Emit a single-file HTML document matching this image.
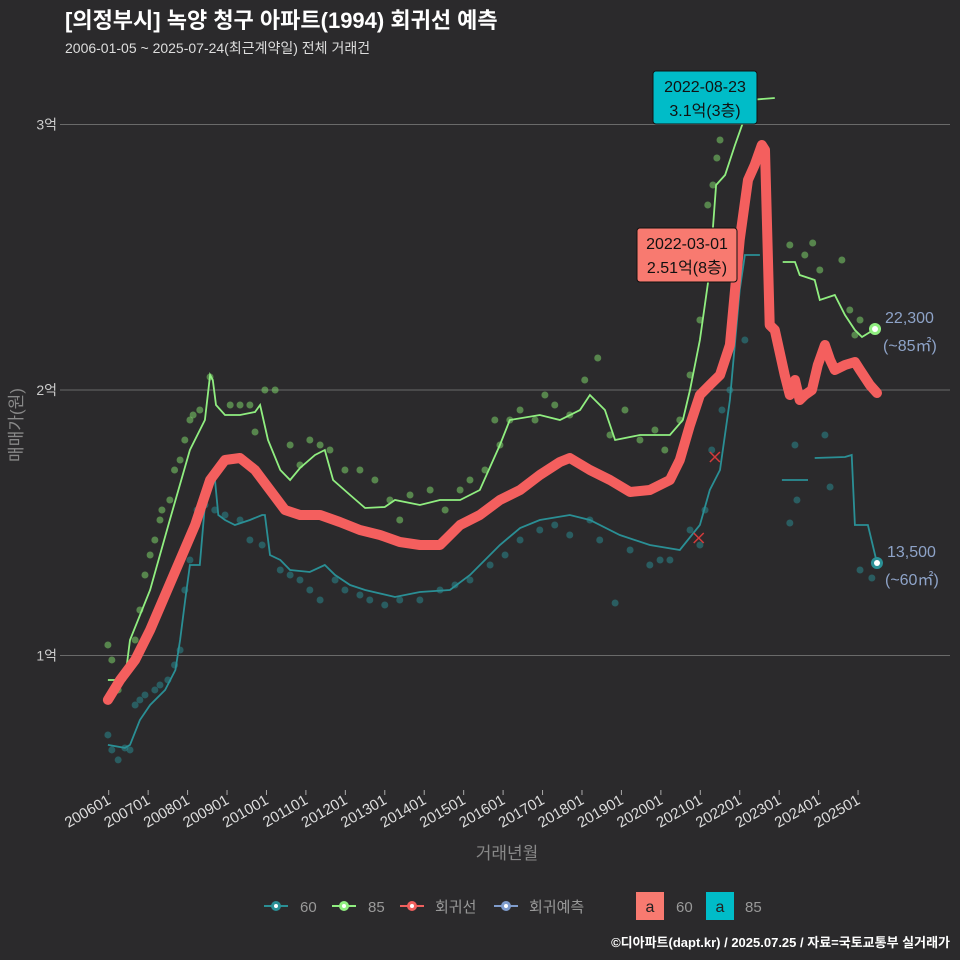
<!DOCTYPE html>
<html><head><meta charset="utf-8">
<style>
html,body{margin:0;padding:0;background:#2b2a2c;}
body{width:960px;height:960px;overflow:hidden;font-family:"Liberation Sans","Noto Sans CJK KR",sans-serif;}
</style></head>
<body>
<svg id="chart" width="960" height="960" xmlns="http://www.w3.org/2000/svg" style="position:absolute;left:0;top:0;font-family:'Liberation Sans','Noto Sans CJK KR',sans-serif">
<rect width="960" height="960" fill="#2b2a2c"/>
<text x="65" y="28" fill="#ffffff" font-size="22" font-weight="bold">[의정부시] 녹양 청구 아파트(1994) 회귀선 예측</text>
<text x="65" y="53" fill="#dddddd" font-size="14">2006-01-05 ~ 2025-07-24(최근계약일) 전체 거래건</text>
<g id="grid"></g>
<g id="dots"></g>
<g id="lines"></g>
<g id="axes"></g>
<text transform="translate(22,425) rotate(-90)" text-anchor="middle" fill="#888" font-size="17">매매가(원)</text>
<text x="507" y="859" text-anchor="middle" fill="#888" font-size="17">거래년월</text>
<g font-size="15" fill="#999">
 <g><line x1="264" y1="906" x2="288" y2="906" stroke="#2a8f95" stroke-width="2"/><circle cx="276" cy="906" r="5" fill="#2a8f95"/><circle cx="276" cy="906" r="2" fill="#fff"/><text x="300" y="912">60</text></g>
 <g><line x1="332" y1="906" x2="356" y2="906" stroke="#90ee80" stroke-width="2"/><circle cx="344" cy="906" r="5" fill="#90ee80"/><circle cx="344" cy="906" r="2" fill="#fff"/><text x="368" y="912">85</text></g>
 <g><line x1="400" y1="906" x2="424" y2="906" stroke="#f0605e" stroke-width="2"/><circle cx="412" cy="906" r="5" fill="#f0605e"/><circle cx="412" cy="906" r="2" fill="#fff"/><text x="435" y="912">회귀선</text></g>
 <g><line x1="494" y1="906" x2="518" y2="906" stroke="#7f9ccc" stroke-width="2"/><circle cx="506" cy="906" r="5" fill="#7f9ccc"/><circle cx="506" cy="906" r="2" fill="#fff"/><text x="529" y="912">회귀예측</text></g>
 <g><rect x="636" y="892" width="28" height="28" fill="#f87a70"/><text x="650" y="912" text-anchor="middle" fill="#222" font-size="16">a</text><text x="676" y="912">60</text></g>
 <g><rect x="706" y="892" width="28" height="28" fill="#00bcc8"/><text x="720" y="912" text-anchor="middle" fill="#222" font-size="16">a</text><text x="745" y="912">85</text></g>
</g>
<text x="950" y="947" text-anchor="end" fill="#ffffff" font-size="13" font-weight="bold">©디아파트(dapt.kr) / 2025.07.25 / 자료=국토교통부 실거래가</text>
</svg>
<script>
const yTickValues = [10000, 20000, 30000];
const yTickLabels = ["1억", "2억", "3억"];
const xTickYears = [2006,2007,2008,2009,2010,2011,2012,2013,2014,2015,2016,2017,2018,2019,2020,2021,2022,2023,2024,2025];
const xTickLabels = ["200601","200701","200801","200901","201001","201101","201201","201301","201401","201501","201601","201701","201801","201901","202001","202101","202201","202301","202401","202501"];

const line85A = [[2005.98,9079],[2006.41,9079],[2006.54,10585],[2007.05,12468],[2007.55,15104],[2008.06,17740],[2008.44,18870],[2008.57,20565],[2008.64,20377],[2008.72,19435],[2008.95,19058],[2009.33,19058],[2009.71,19171],[2009.84,19435],[2010.04,18117],[2010.35,16987],[2010.6,16611],[2010.85,17063],[2011.23,17552],[2011.48,17740],[2011.69,16611],[2012.12,16046],[2012.5,15556],[2013.0,15594],[2013.26,15857],[2013.89,15669],[2014.4,15857],[2014.91,15857],[2015.41,16234],[2015.92,17929],[2016.17,18870],[2016.93,19058],[2017.44,18870],[2017.95,19247],[2018.2,19812],[2018.58,19247],[2018.84,18117],[2019.47,18305],[2020.23,18305],[2020.56,18870],[2020.74,20000],[2020.99,21883],[2021.24,24519],[2021.4,27720],[2021.63,28097],[2021.88,29227],[2022.06,29980],[2022.26,30921],[2022.89,30997]];
const line85B = [[2023.09,24820],[2023.4,24820],[2023.52,24331],[2023.9,24143],[2024.03,23389],[2024.41,23578],[2024.67,22825],[2024.92,22260],[2025.1,21996],[2025.43,22297]];
const line60A = [[2005.98,6631],[2006.41,6518],[2006.54,6631],[2006.79,7572],[2007.05,8137],[2007.43,8702],[2007.69,9455],[2007.81,10585],[2007.94,12091],[2008.06,13410],[2008.31,13410],[2008.44,15669],[2008.57,16686],[2008.69,16686],[2008.78,15292],[2008.95,15104],[2009.2,14916],[2009.58,15104],[2009.89,15292],[2009.96,15292],[2010.09,13786],[2010.35,13598],[2010.6,13221],[2011.1,13146],[2011.48,13410],[2011.74,13033],[2012.12,12656],[2012.5,12468],[2013.26,12204],[2013.89,12393],[2014.65,12468],[2015.16,13033],[2015.92,14163],[2016.43,14803],[2016.93,15104],[2017.69,15292],[2018.2,15104],[2018.96,14539],[2019.72,14163],[2020.48,13975],[2020.99,14916],[2021.24,16234],[2021.5,16987],[2021.75,19623],[2022.0,23766],[2022.13,25084],[2022.51,25084]];
const line60B = [[2023.07,16611],[2023.73,16611]];
const line60C = [[2023.9,17439],[2024.67,17477],[2024.84,17552],[2024.92,14916],[2025.25,14916],[2025.48,13485]];
const regression = [[2005.98,8326],[2006.29,9079],[2006.67,9832],[2007.05,10962],[2007.43,12280],[2007.81,13598],[2008.19,14916],[2008.57,16611],[2008.95,17364],[2009.33,17439],[2009.71,16987],[2010.09,16234],[2010.47,15481],[2010.85,15292],[2011.36,15292],[2011.86,15029],[2012.37,14728],[2012.88,14539],[2013.38,14276],[2013.89,14163],[2014.4,14163],[2014.91,14916],[2015.41,15292],[2015.92,15857],[2016.43,16234],[2016.93,16799],[2017.44,17289],[2017.69,17439],[2018.2,16987],[2018.71,16611],[2019.22,16159],[2019.72,16234],[2020.23,16611],[2020.48,17364],[2020.74,18682],[2020.99,19812],[2021.24,20188],[2021.5,20565],[2021.75,21695],[2022.0,25649],[2022.21,27909],[2022.38,28474],[2022.56,29227],[2022.64,29038],[2022.71,25272],[2022.76,22448],[2022.89,22260],[2023.14,20565],[2023.27,19812],[2023.4,20377],[2023.52,19623],[2023.65,19812],[2023.83,20000],[2023.98,20942],[2024.16,21695],[2024.29,21130],[2024.41,20753],[2024.67,20942],[2024.92,21054],[2025.05,20753],[2025.3,20188],[2025.48,19887]];
const dots85 = [[2005.98,10397],[2006.08,9832],[2006.24,8702],[2006.49,9530],[2006.67,10585],[2006.79,11715],[2006.92,13033],[2007.05,13786],[2007.17,14351],[2007.3,15104],[2007.35,15481],[2007.55,15857],[2007.67,16987],[2007.81,17364],[2007.93,18117],[2008.06,18870],[2008.14,19058],[2008.31,19247],[2008.57,20490],[2009.08,19435],[2009.33,19435],[2009.58,19435],[2009.71,18418],[2009.96,20000],[2010.22,20000],[2010.6,17929],[2010.85,17176],[2011.1,18117],[2011.36,17929],[2011.61,17740],[2011.99,16987],[2012.37,16987],[2012.75,16611],[2013.13,15857],[2013.38,15104],[2013.64,16046],[2014.15,16234],[2014.53,15481],[2014.91,16234],[2015.16,16611],[2015.54,16987],[2015.79,18870],[2015.92,17929],[2016.17,18870],[2016.43,19247],[2016.81,18870],[2017.06,19812],[2017.31,19435],[2017.69,19058],[2018.07,20377],[2018.4,21205],[2018.71,18305],[2019.09,19247],[2019.47,18117],[2019.85,18494],[2020.1,17740],[2020.48,18870],[2020.74,20565],[2020.99,22636],[2021.12,24519],[2021.19,26967],[2021.32,27720],[2021.42,28737],[2021.5,29415],[2021.88,30545],[2023.27,25461],[2023.65,25084],[2023.85,25536],[2024.03,24519],[2024.59,24896],[2024.79,23013],[2025.05,22636],[2024.92,22071]];
const dots60 = [[2005.98,7008],[2006.08,6443],[2006.24,6067],[2006.41,6518],[2006.54,6443],[2006.67,8137],[2006.79,8326],[2006.92,8514],[2007.17,8702],[2007.3,8890],[2007.5,9079],[2007.67,9643],[2007.81,10208],[2007.93,12468],[2008.06,13598],[2008.24,15481],[2008.44,15669],[2008.69,15481],[2008.95,15292],[2009.33,15104],[2009.58,14351],[2009.89,14163],[2010.35,13221],[2010.6,13033],[2010.85,12845],[2011.1,12468],[2011.36,12091],[2011.74,12845],[2011.99,12468],[2012.37,12280],[2012.62,12091],[2013.0,11903],[2013.38,12091],[2013.89,12091],[2014.4,12468],[2014.78,12656],[2015.16,12845],[2015.67,13410],[2016.05,13786],[2016.43,14351],[2016.93,14728],[2017.31,14916],[2017.69,14539],[2018.2,15104],[2018.45,14351],[2018.84,11978],[2019.22,13975],[2019.72,13410],[2019.98,13598],[2020.23,13598],[2020.74,14728],[2020.99,14163],[2021.12,15481],[2021.29,17740],[2021.55,19247],[2021.75,20000],[2022.13,21883],[2023.4,17929],[2023.27,14991],[2024.16,18305],[2024.29,16347],[2023.45,15857],[2025.05,13221],[2025.35,12920]];
const crossPoints = [[2021.37,17477],[2020.96,14426]];

const X0 = 108.7, XS = 39.44, Y0 = 390, YS = 0.02655;
function xs(yr){ return X0 + (yr - 2006) * XS; }
function ys(v){ return Y0 - (v - 20000) * YS; }
const NS = "http://www.w3.org/2000/svg";
function mk(tag, attrs, parent){ const e = document.createElementNS(NS, tag); for (const k in attrs) e.setAttribute(k, attrs[k]); parent.appendChild(e); return e; }
const grid = document.getElementById('grid'), axes = document.getElementById('axes'), dotsG = document.getElementById('dots'), linesG = document.getElementById('lines'), svg = document.getElementById('chart');

yTickValues.forEach((v, i) => {
  const l = mk('line', {x1: 60, x2: 950, y1: ys(v), y2: ys(v), stroke: '#6a6a6a', 'stroke-width': 1}, grid);
  
  
  const t = mk('text', {x: 57, y: ys(v) + 5, 'text-anchor': 'end', fill: '#cccccc', 'font-size': 14}, axes);
  t.textContent = yTickLabels[i];
  
  
});
xTickYears.forEach((yr, i) => {
  const x = xs(yr);
  const tk = mk('line', {x1: x, x2: x, y1: 790, y2: 795, stroke: '#aaa', 'stroke-width': 1}, axes);
  
  
  const t = mk('text', {x: x + 3, y: 803, 'text-anchor': 'end', fill: '#dddddd', 'font-size': 15, transform: `rotate(-30 ${x + 3} 803)`}, axes);
  t.textContent = xTickLabels[i];
  
  
});

dots60.forEach(p => {
  const c = mk('circle', {cx: xs(p[0]), cy: ys(p[1]), r: 3.5, fill: '#2a8f95', 'fill-opacity': 0.5}, dotsG);
  
  
});
dots85.forEach(p => {
  const c = mk('circle', {cx: xs(p[0]), cy: ys(p[1]), r: 3.5, fill: '#7ccf6a', 'fill-opacity': 0.55}, dotsG);
  
  
});
function pts(arr){ return arr.map(p => xs(p[0]).toFixed(1) + ',' + ys(p[1]).toFixed(1)).join(' '); }
[[line60A,'line-60'],[line60B,'line-60-forecast'],[line60C,'line-60-forecast']].forEach(s => {
  const pl = mk('polyline', {points: pts(s[0]), fill: 'none', stroke: '#2a8f95', 'stroke-width': 1.8}, linesG);
  
  
});
[[line85A,'line-85'],[line85B,'line-85-forecast']].forEach(s => {
  const pl = mk('polyline', {points: pts(s[0]), fill: 'none', stroke: '#90ee80', 'stroke-width': 1.8}, linesG);
  
  
});
const rl = mk('polyline', {points: pts(regression), fill: 'none', stroke: '#f45f5e', 'stroke-width': 10, 'stroke-linejoin': 'round', 'stroke-linecap': 'round'}, linesG);


crossPoints.forEach(p => {
  const x = xs(p[0]), y = ys(p[1]);
  const g = mk('path', {d: `M${x-5},${y-5}L${x+5},${y+5}M${x-5},${y+5}L${x+5},${y-5}`, stroke: '#d43b3b', 'stroke-width': 1.5}, linesG);
  
  
});
const last85 = line85B[line85B.length - 1], last60 = line60C[line60C.length - 1];
[[last85,'#90ee80','end-marker-85','22,300','(~85㎡)'],[last60,'#2a8f95','end-marker-60','13,500','(~60㎡)']].forEach(s => {
  const x = xs(s[0][0]), y = ys(s[0][1]);
  const c = mk('circle', {cx: x, cy: y, r: 6, fill: s[1]}, linesG);
  
  
  const c2 = mk('circle', {cx: x, cy: y, r: 3, fill: '#fff'}, linesG);
  
  
  const t1 = mk('text', {x: x + 10, y: y - 6, fill: '#8ea3c8', 'font-size': 16}, linesG);
  t1.textContent = s[3];
  
  
  const t2 = mk('text', {x: x + 8, y: y + 22, fill: '#8ea3c8', 'font-size': 16}, linesG);
  t2.textContent = s[4];
  
  
});
function annot(x, y, w, h, fill, l1, l2, name){
  const g = mk('g', {}, svg);
  
  
  mk('rect', {x: x, y: y, width: w, height: h, rx: 3, fill: fill, stroke: '#111', 'stroke-width': 1}, g);
  const a = mk('text', {x: x + w/2, y: y + 21, 'text-anchor': 'middle', fill: '#111', 'font-size': 16}, g); a.textContent = l1;
  const b = mk('text', {x: x + w/2, y: y + 45, 'text-anchor': 'middle', fill: '#111', 'font-size': 16}, g); b.textContent = l2;
}
annot(653, 71, 104, 53, '#00bcc8', '2022-08-23', '3.1억(3층)', 'annotation-max-85');
annot(637, 228, 100, 54, '#f87a70', '2022-03-01', '2.51억(8층)', 'annotation-max-60');
</script>
</body></html>
